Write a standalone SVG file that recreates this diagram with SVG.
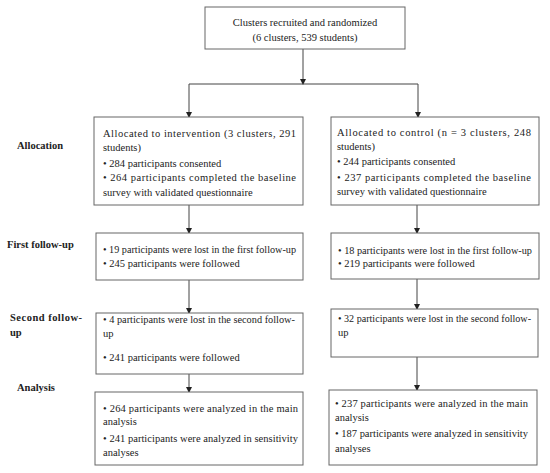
<svg xmlns="http://www.w3.org/2000/svg" width="550" height="473" viewBox="0 0 550 473">
<defs>
<marker id="ah" markerWidth="6" markerHeight="6" refX="5" refY="3" orient="auto" markerUnits="userSpaceOnUse">
<path d="M0,0 L6,3 L0,6 Z" fill="#222"/>
</marker>
<style>
.box{fill:#fff;stroke:#666;stroke-width:1}
.t{font-family:"Liberation Serif","Times New Roman",serif;font-size:10.5px;fill:#222}
.lab{font-family:"Liberation Serif","Times New Roman",serif;font-size:10.5px;font-weight:bold;fill:#222}
.c{fill:none;stroke:#444;stroke-width:1}
</style>
</defs>
<rect width="550" height="473" fill="#fff"/>
<g id="connectors">
<line class="c" x1="303" y1="49" x2="303" y2="84" marker-end="url(#ah)"/>
<line class="c" x1="189" y1="84" x2="418" y2="84"/>
<line class="c" x1="189" y1="84" x2="189" y2="117" marker-end="url(#ah)"/>
<line class="c" x1="418" y1="84" x2="418" y2="117" marker-end="url(#ah)"/>
<line class="c" x1="189" y1="205" x2="189" y2="233" marker-end="url(#ah)"/>
<line class="c" x1="189" y1="280" x2="189" y2="313" marker-end="url(#ah)"/>
<line class="c" x1="189" y1="374" x2="189" y2="392" marker-end="url(#ah)"/>
<line class="c" x1="417" y1="205" x2="417" y2="233" marker-end="url(#ah)"/>
<line class="c" x1="417" y1="279" x2="417" y2="309" marker-end="url(#ah)"/>
<line class="c" x1="417" y1="357" x2="417" y2="390" marker-end="url(#ah)"/>
</g>
<g id="labels">
<text class="lab" x="17" y="149">Allocation</text>
<text class="lab" x="7" y="248">First follow-up</text>
<text class="lab" x="10" y="321" textLength="72" lengthAdjust="spacing">Second follow-</text>
<text class="lab" x="10" y="336">up</text>
<text class="lab" x="17" y="391">Analysis</text>
</g>
<g id="top">
<rect class="box" x="205" y="7" width="200" height="42"/>
<text class="t" x="305" y="26" text-anchor="middle">Clusters recruited and randomized</text>
<text class="t" x="305" y="41" text-anchor="middle">(6 clusters, 539 students)</text>
</g>
<g id="alloc-int">
<rect class="box" x="94" y="117" width="209" height="88"/>
<text class="t" x="103" y="137" textLength="193" lengthAdjust="spacing">Allocated to intervention (3 clusters, 291</text>
<text class="t" x="103" y="151">students)</text>
<text class="t" x="103" y="167">• 284 participants consented</text>
<text class="t" x="103" y="181" textLength="193" lengthAdjust="spacing">• 264 participants completed the baseline</text>
<text class="t" x="103" y="196">survey with validated questionnaire</text>
</g>
<g id="alloc-ctl">
<rect class="box" x="331" y="117" width="208" height="88"/>
<text class="t" x="337" y="136" textLength="194" lengthAdjust="spacing">Allocated to control (n = 3 clusters, 248</text>
<text class="t" x="337" y="150">students)</text>
<text class="t" x="337" y="165">• 244 participants consented</text>
<text class="t" x="337" y="181" textLength="194" lengthAdjust="spacing">• 237 participants completed the baseline</text>
<text class="t" x="337" y="195">survey with validated questionnaire</text>
</g>
<g id="fu1-int">
<rect class="box" x="96" y="233" width="207" height="47"/>
<text class="t" x="103" y="253" textLength="193" lengthAdjust="spacingAndGlyphs">• 19 participants were lost in the first follow-up</text>
<text class="t" x="103" y="267">• 245 participants were followed</text>
</g>
<g id="fu1-ctl">
<rect class="box" x="331" y="233" width="208" height="46"/>
<text class="t" x="338" y="254" textLength="194" lengthAdjust="spacingAndGlyphs">• 18 participants were lost in the first follow-up</text>
<text class="t" x="338" y="267">• 219 participants were followed</text>
</g>
<g id="fu2-int">
<rect class="box" x="96" y="313" width="207" height="61"/>
<text class="t" x="103" y="323" textLength="192" lengthAdjust="spacingAndGlyphs">• 4 participants were lost in the second follow-</text>
<text class="t" x="103" y="337">up</text>
<text class="t" x="103" y="361">• 241 participants were followed</text>
</g>
<g id="fu2-ctl">
<rect class="box" x="331" y="309" width="207" height="48"/>
<text class="t" x="338" y="322" textLength="193" lengthAdjust="spacingAndGlyphs">• 32 participants were lost in the second follow-</text>
<text class="t" x="338" y="336">up</text>
</g>
<g id="an-int">
<rect class="box" x="95" y="392" width="208" height="73"/>
<text class="t" x="103" y="412" textLength="195" lengthAdjust="spacing">• 264 participants were analyzed in the main</text>
<text class="t" x="103" y="425">analysis</text>
<text class="t" x="103" y="442" textLength="195" lengthAdjust="spacing">• 241 participants were analyzed in sensitivity</text>
<text class="t" x="103" y="456">analyses</text>
</g>
<g id="an-ctl">
<rect class="box" x="329" y="390" width="208" height="75"/>
<text class="t" x="335" y="407" textLength="193" lengthAdjust="spacing">• 237 participants were analyzed in the main</text>
<text class="t" x="335" y="421">analysis</text>
<text class="t" x="335" y="437" textLength="193" lengthAdjust="spacing">• 187 participants were analyzed in sensitivity</text>
<text class="t" x="335" y="452">analyses</text>
</g>
</svg>
